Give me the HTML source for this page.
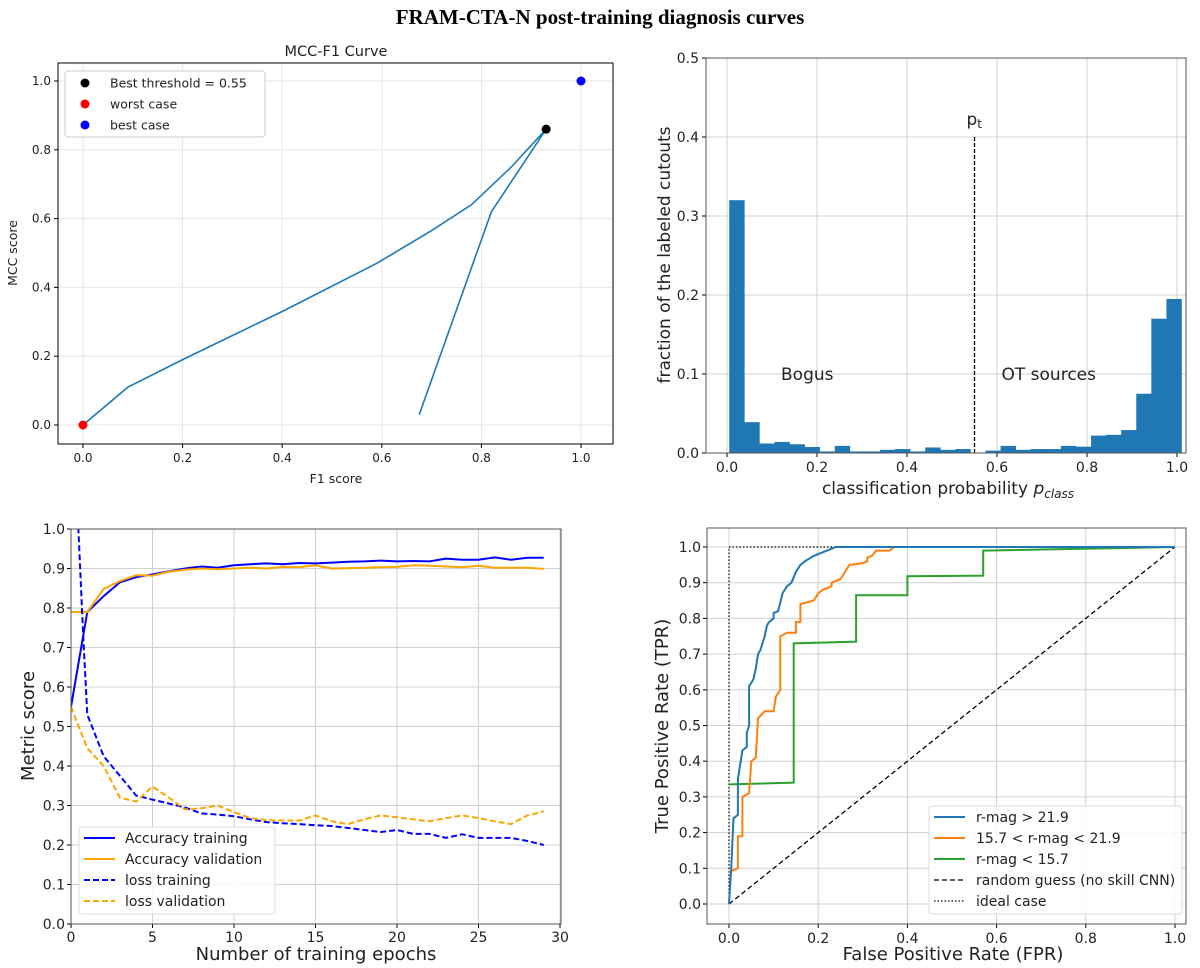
<!DOCTYPE html>
<html><head><meta charset="utf-8"><style>
body{margin:0;background:#fff;width:1200px;height:968px;overflow:hidden}
svg{display:block}
text{font-family:"DejaVu Sans","Liberation Sans",sans-serif;fill:#222}
</style></head><body>
<svg id="fig" width="1200" height="968" xmlns="http://www.w3.org/2000/svg">
<text x="600" y="24" text-anchor="middle" style="font-family:'Liberation Serif',serif;font-weight:bold;font-size:21px;fill:#000">FRAM-CTA-N post-training diagnosis curves</text>
</svg>
<script>
// ---- MCC-F1 data ----
const f1Values=[0,0.09,0.2,0.4,0.59,0.70,0.78,0.86,0.93,0.82,0.675];
const mccValues=[0,0.11,0.19,0.33,0.47,0.565,0.64,0.75,0.86,0.62,0.03];
const bestPoint=[0.93,0.86], worstPoint=[0,0], idealPoint=[1,1];
const tlTicks=[0,0.2,0.4,0.6,0.8,1.0];
// ---- histogram data ----
const histStart=0.005, histBinWidth=0.0335;
const histHeights=[0.32,0.039,0.012,0.014,0.011,0.0076,0.002,0.009,0.002,0.002,0.004,0.005,0.002,0.007,0.004,0.005,0,0.003,0.009,0.004,0.005,0.005,0.009,0.008,0.022,0.023,0.029,0.075,0.17,0.195];
const threshold=0.55;
const trXTicks=[0,0.2,0.4,0.6,0.8,1.0];
const trYTicks=[0,0.1,0.2,0.3,0.4,0.5];
// ---- training data ----
const epochs=[0,1,2,3,4,5,6,7,8,9,10,11,12,13,14,15,16,17,18,19,20,21,22,23,24,25,26,27,28,29];
const accTrain=[0.55,0.79,0.83,0.865,0.878,0.885,0.893,0.9,0.905,0.902,0.908,0.911,0.913,0.911,0.914,0.913,0.915,0.917,0.918,0.92,0.918,0.919,0.918,0.925,0.922,0.922,0.928,0.922,0.927,0.927];
const accVal=[0.79,0.79,0.848,0.868,0.883,0.882,0.892,0.897,0.9,0.898,0.9,0.902,0.9,0.904,0.903,0.908,0.9,0.901,0.902,0.903,0.904,0.908,0.907,0.905,0.903,0.907,0.902,0.902,0.902,0.899];
const lossTrainEpochs=[0.4,0.75,1,2,3,4,5,6,7,8,9,10,11,12,13,14,15,16,17,18,19,20,21,22,23,24,25,26,27,28,29];
const lossTrain=[1.05,0.73,0.53,0.425,0.375,0.325,0.315,0.305,0.295,0.28,0.277,0.273,0.265,0.258,0.255,0.253,0.25,0.248,0.243,0.238,0.233,0.238,0.228,0.228,0.218,0.227,0.218,0.218,0.218,0.21,0.2];
const lossVal=[0.55,0.445,0.4,0.32,0.31,0.348,0.32,0.29,0.293,0.3,0.283,0.268,0.263,0.262,0.262,0.275,0.26,0.253,0.265,0.275,0.27,0.265,0.26,0.268,0.275,0.268,0.26,0.253,0.275,0.285];
const blXTicks=[0,5,10,15,20,25,30];
const blYTicks=[0,0.1,0.2,0.3,0.4,0.5,0.6,0.7,0.8,0.9,1.0];
// ---- ROC data ----
const rocBlueFpr=[0,0.005,0.01,0.02,0.02,0.03,0.04,0.04,0.045,0.045,0.055,0.06,0.065,0.07,0.08,0.085,0.09,0.1,0.1,0.11,0.12,0.13,0.14,0.15,0.16,0.17,0.19,0.2,0.22,0.24,1];
const rocBlueTpr=[0,0.1,0.24,0.25,0.35,0.43,0.44,0.48,0.5,0.61,0.63,0.66,0.7,0.71,0.75,0.78,0.79,0.8,0.815,0.82,0.87,0.89,0.9,0.93,0.95,0.96,0.975,0.98,0.99,1,1];
const rocOrangeFpr=[0,0.02,0.02,0.03,0.03,0.045,0.05,0.06,0.065,0.08,0.1,0.105,0.115,0.115,0.13,0.15,0.15,0.16,0.16,0.19,0.2,0.21,0.23,0.23,0.25,0.26,0.27,0.3,0.31,0.31,0.32,0.33,0.36,0.37,1];
const rocOrangeTpr=[0.09,0.1,0.19,0.19,0.3,0.31,0.4,0.41,0.52,0.54,0.54,0.58,0.6,0.75,0.76,0.76,0.79,0.79,0.84,0.85,0.87,0.88,0.89,0.9,0.91,0.93,0.95,0.955,0.96,0.97,0.975,0.99,0.99,1,1];
const rocGreenFpr=[0,0.145,0.145,0.285,0.285,0.4,0.4,0.57,0.57,1];
const rocGreenTpr=[0.335,0.34,0.73,0.735,0.865,0.865,0.918,0.92,0.99,1];
const brTicks=[0,0.2,0.4,0.6,0.8,1.0];
const brYTicks=[0,0.1,0.2,0.3,0.4,0.5,0.6,0.7,0.8,0.9,1.0];

const NS="http://www.w3.org/2000/svg";
const fig=document.getElementById('fig');
function mk(tag,attrs,parent,txt){const e=document.createElementNS(NS,tag);for(const k in attrs)e.setAttribute(k,attrs[k]);if(txt!==undefined)e.textContent=txt;(parent||fig).appendChild(e);return e;}
function lin(d0,d1,r0,r1){return v=>r0+(v-d0)*(r1-r0)/(d1-d0);}
function fmt(v,dec){return v.toFixed(dec);}
function pathD(xs,ys,sx,sy){return xs.map((x,i)=>(i?'L':'M')+sx(x).toFixed(1)+' '+sy(ys[i]).toFixed(1)).join(' ');}

// ===== Panel 1: MCC-F1 =====
(function(){
const g=mk('g',{});


const L=58,R=613,T=63,B=444;
const sx=lin(0,1,83,581), sy=lin(0,1,425,81);
tlTicks.forEach(t=>{
 const gl=mk('line',{x1:sx(t),x2:sx(t),y1:T,y2:B,stroke:'#e6e6e6','stroke-width':1},g);
 const gh=mk('line',{x1:L,x2:R,y1:sy(t),y2:sy(t),stroke:'#e6e6e6','stroke-width':1},g);
 mk('line',{x1:sx(t),x2:sx(t),y1:B,y2:B+4,stroke:'#000'},g);
 mk('line',{x1:L-4,x2:L,y1:sy(t),y2:sy(t),stroke:'#000'},g);
 const xl=mk('text',{x:sx(t),y:B+18,'text-anchor':'middle','font-size':12},g,fmt(t,1));
 const yl=mk('text',{x:L-7,y:sy(t)+4,'text-anchor':'end','font-size':12},g,fmt(t,1));
});
mk('rect',{x:L,y:T,width:R-L,height:B-T,fill:'none',stroke:'#000','stroke-width':1},g);
const c=mk('path',{d:pathD(f1Values,mccValues,sx,sy),fill:'none',stroke:'#1f77b4','stroke-width':1.6},g);

const pts=[[bestPoint,'#000','best-threshold-point'],[worstPoint,'#f00','worst-case-point'],[idealPoint,'#00f','best-case-point']];
pts.forEach(p=>{const m=mk('circle',{cx:sx(p[0][0]),cy:sy(p[0][1]),r:4.5,fill:p[1]},g);});
const t=mk('text',{x:336,y:56,'text-anchor':'middle','font-size':14.5},g,'MCC-F1 Curve');
const xt=mk('text',{x:336,y:483,'text-anchor':'middle','font-size':12.5},g,'F1 score');
const yt=mk('text',{x:17,y:253,'text-anchor':'middle','font-size':12.5,transform:'rotate(-90 17 253)'},g,'MCC score');
const lg=mk('g',{},g);
mk('rect',{x:65,y:71,width:200,height:66,fill:'#fff',stroke:'#ccc',rx:3},lg);
[['Best threshold = 0.55','#000'],['worst case','#f00'],['best case','#00f']].forEach((e,i)=>{
 const y=83+i*21;
 mk('circle',{cx:85,cy:y,r:4.5,fill:e[1]},lg);
 const tx=mk('text',{x:110,y:y+4.5,'font-size':12.5},lg,e[0]);
});
})();

// ===== Panel 2: histogram =====
(function(){
const g=mk('g',{});


const L=706,R=1186,T=58,B=453;
const sx=lin(0,1,727,1177), sy=lin(0,0.5,453,58);
trXTicks.forEach(t=>{
 mk('line',{x1:sx(t),x2:sx(t),y1:T,y2:B,stroke:'#d0d0d0'},g);
 mk('line',{x1:sx(t),x2:sx(t),y1:B,y2:B+4,stroke:'#000'},g);
 const xl=mk('text',{x:sx(t),y:B+19,'text-anchor':'middle','font-size':14},g,fmt(t,1));
});
trYTicks.forEach(t=>{
 mk('line',{x1:L,x2:R,y1:sy(t),y2:sy(t),stroke:'#d0d0d0'},g);
 mk('line',{x1:L-4,x2:L,y1:sy(t),y2:sy(t),stroke:'#000'},g);
 const yl=mk('text',{x:L-7,y:sy(t)+5,'text-anchor':'end','font-size':14},g,fmt(t,1));
});
histHeights.forEach((h,i)=>{
 if(h<=0)return;
 const x0=sx(histStart+i*histBinWidth),x1=sx(histStart+(i+1)*histBinWidth);
 const b=mk('rect',{x:x0,y:sy(h),width:x1-x0+0.3,height:sy(0)-sy(h),fill:'#1f77b4'},g);
 
});
const th=mk('line',{x1:sx(threshold),x2:sx(threshold),y1:sy(0),y2:sy(0.4),stroke:'#000','stroke-width':1.3,'stroke-dasharray':'4,2'},g);

const pt=mk('text',{x:sx(threshold)-8,y:sy(0.415),'font-size':17},g);
pt.innerHTML='p<tspan font-size="12" dy="3">t</tspan>';
const bg=mk('text',{x:sx(0.12),y:sy(0.1)+6,'font-size':17},g,'Bogus');
const ot=mk('text',{x:sx(0.61),y:sy(0.1)+6,'font-size':17},g,'OT sources');
mk('rect',{x:L,y:T,width:R-L,height:B-T,fill:'none',stroke:'#555'},g);
const xt=mk('text',{x:948,y:494,'text-anchor':'middle','font-size':17},g);
xt.innerHTML='classification probability <tspan font-style="italic">p</tspan><tspan font-style="italic" font-size="12" dy="4">class</tspan>';
const yt=mk('text',{x:670,y:255,'text-anchor':'middle','font-size':17,transform:'rotate(-90 670 255)'},g,'fraction of the labeled cutouts');
})();

// ===== Panel 3: training curves =====
(function(){
const g=mk('g',{});


const L=71,R=561,T=529,B=924;
const sx=lin(0,30,71,560), sy=lin(0,1,924,529);
mk('defs',{},g).innerHTML='<clipPath id="clip3"><rect x="'+L+'" y="'+T+'" width="'+(R-L)+'" height="'+(B-T)+'"/></clipPath>';
blXTicks.forEach(t=>{
 mk('line',{x1:sx(t),x2:sx(t),y1:T,y2:B,stroke:'#d0d0d0'},g);
 mk('line',{x1:sx(t),x2:sx(t),y1:B,y2:B+4,stroke:'#000'},g);
 const xl=mk('text',{x:sx(t),y:B+18,'text-anchor':'middle','font-size':14},g,String(t));
});
blYTicks.forEach(t=>{
 mk('line',{x1:L,x2:R,y1:sy(t),y2:sy(t),stroke:'#d0d0d0'},g);
 mk('line',{x1:L-4,x2:L,y1:sy(t),y2:sy(t),stroke:'#000'},g);
 const yl=mk('text',{x:L-6,y:sy(t)+5,'text-anchor':'end','font-size':14},g,fmt(t,1));
});
const cg=mk('g',{'clip-path':'url(#clip3)'},g);
const series=[[epochs,accTrain,'#0000ff','','accuracy-training-line'],[epochs,accVal,'#ffa500','','accuracy-validation-line'],[lossTrainEpochs,lossTrain,'#0000ff','6,3','loss-training-line'],[epochs,lossVal,'#ffa500','6,3','loss-validation-line']];
series.forEach(s=>{const p=mk('path',{d:pathD(s[0],s[1],sx,sy),fill:'none',stroke:s[2],'stroke-width':2,'stroke-dasharray':s[3]},cg);});
mk('rect',{x:L,y:T,width:R-L,height:B-T,fill:'none',stroke:'#555'},g);
const lg=mk('g',{},g);
mk('rect',{x:79,y:827,width:196,height:87,fill:'#fff','fill-opacity':0.85,stroke:'#ddd',rx:3},lg);
[['Accuracy training','#0000ff',''],['Accuracy validation','#ffa500',''],['loss training','#0000ff','6,3'],['loss validation','#ffa500','6,3']].forEach((e,i)=>{
 const y=838+i*21;
 mk('line',{x1:84,x2:115,y1:y,y2:y,stroke:e[1],'stroke-width':2,'stroke-dasharray':e[2]},lg);
 const tx=mk('text',{x:125,y:y+5,'font-size':14},lg,e[0]);
});
const xt=mk('text',{x:316,y:960,'text-anchor':'middle','font-size':18},g,'Number of training epochs');
const yt=mk('text',{x:34,y:726,'text-anchor':'middle','font-size':18,transform:'rotate(-90 34 726)'},g,'Metric score');
})();

// ===== Panel 4: ROC =====
(function(){
const g=mk('g',{});


const L=707,R=1186,T=528,B=924;
const sx=lin(0,1,729,1175), sy=lin(0,1,904,547);
brTicks.forEach(t=>{
 mk('line',{x1:sx(t),x2:sx(t),y1:T,y2:B,stroke:'#d0d0d0'},g);
 mk('line',{x1:sx(t),x2:sx(t),y1:B,y2:B+4,stroke:'#000'},g);
 const xl=mk('text',{x:sx(t),y:B+19,'text-anchor':'middle','font-size':14},g,fmt(t,1));
});
brYTicks.forEach(t=>{
 mk('line',{x1:L,x2:R,y1:sy(t),y2:sy(t),stroke:'#d0d0d0'},g);
 mk('line',{x1:L-4,x2:L,y1:sy(t),y2:sy(t),stroke:'#000'},g);
 const yl=mk('text',{x:L-6,y:sy(t)+5,'text-anchor':'end','font-size':14},g,fmt(t,1));
});
const rg=mk('line',{x1:sx(0),y1:sy(0),x2:sx(1),y2:sy(1),stroke:'#000','stroke-width':1.3,'stroke-dasharray':'5,3'},g);
const id=mk('path',{d:'M'+sx(0)+' '+sy(0)+' L'+sx(0)+' '+sy(1)+' L'+sx(1)+' '+sy(1),fill:'none',stroke:'#000','stroke-width':1.2,'stroke-dasharray':'1.5,2'},g);
[[rocGreenFpr,rocGreenTpr,'#2ca02c','roc-bright-line'],[rocOrangeFpr,rocOrangeTpr,'#ff7f0e','roc-mid-line'],[rocBlueFpr,rocBlueTpr,'#1f77b4','roc-faint-line']].forEach(s=>{
 const p=mk('path',{d:pathD(s[0],s[1],sx,sy),fill:'none',stroke:s[2],'stroke-width':2},g);
});
mk('rect',{x:L,y:T,width:R-L,height:B-T,fill:'none',stroke:'#555'},g);
const lg=mk('g',{},g);
mk('rect',{x:929,y:806,width:253,height:108,fill:'#fff','fill-opacity':0.85,stroke:'#ddd',rx:3},lg);
[['r-mag > 21.9','#1f77b4','',2],['15.7 < r-mag < 21.9','#ff7f0e','',2],['r-mag < 15.7','#2ca02c','',2],['random guess (no skill CNN)','#000','5,3',1.3],['ideal case','#000','1.5,2',1.2]].forEach((e,i)=>{
 const y=817+i*21;
 mk('line',{x1:934,x2:965,y1:y,y2:y,stroke:e[1],'stroke-width':e[3],'stroke-dasharray':e[2]},lg);
 const tx=mk('text',{x:976,y:y+5,'font-size':14},lg,e[0]);
});
const xt=mk('text',{x:953,y:960,'text-anchor':'middle','font-size':18},g,'False Positive Rate (FPR)');
const yt=mk('text',{x:668,y:726,'text-anchor':'middle','font-size':18,transform:'rotate(-90 668 726)'},g,'True Positive Rate (TPR)');
})();
</script>
</body></html>
